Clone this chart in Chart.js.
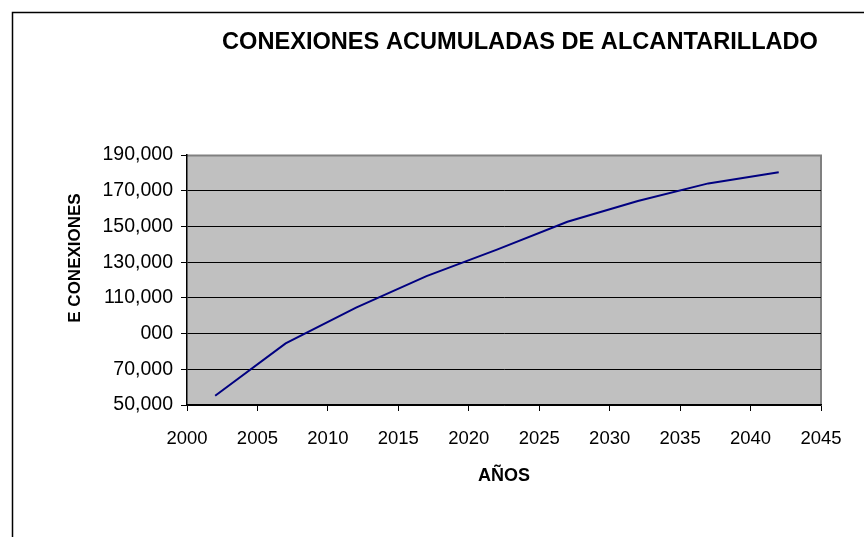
<!DOCTYPE html>
<html>
<head>
<meta charset="utf-8">
<script src="https://cdn.jsdelivr.net/npm/chart.js@4"></script>
<style>
  html, body { margin: 0; padding: 0; background: #fff; }
  #wrap { width: 864px; height: 537px; position: relative; }
</style>
</head>
<body>
<div id="wrap"><canvas id="chart" width="864" height="537"></canvas></div>
<script>
const years = [2002, 2007, 2012, 2017, 2022, 2027, 2032, 2037, 2042];
const conexiones = [55200, 84500, 104500, 122200, 137000, 152600, 164200, 174100, 180300];
const yTickValues = [50000, 70000, 90000, 110000, 130000, 150000, 170000, 190000];
const yTickLabels = ['50,000', '70,000', '000', '110,000', '130,000', '150,000', '170,000', '190,000'];
const xTickLabels = ['2000', '2005', '2010', '2015', '2020', '2025', '2030', '2035', '2040', '2045'];

const FONT = "'Liberation Sans', Arial, sans-serif";

// fondo gris del area de trazado + marco exterior + titulo
const chartDecor = {
  id: 'chartDecor',
  beforeDraw(chart) {
    const { ctx, chartArea: a } = chart;
    ctx.save();
    ctx.fillStyle = '#fff';
    ctx.fillRect(0, 0, chart.width, chart.height);
    ctx.fillStyle = '#c0c0c0';
    ctx.fillRect(a.left, a.top, a.right - a.left, a.bottom - a.top);
    ctx.strokeStyle = '#808080';
    ctx.lineWidth = 2;
    ctx.beginPath();
    ctx.moveTo(a.left, a.top + 0.5);
    ctx.lineTo(a.right, a.top + 0.5);
    ctx.lineTo(a.right, a.bottom);
    ctx.stroke();
    // marco del grafico
    ctx.strokeStyle = '#000';
    ctx.lineWidth = 1.5;
    ctx.beginPath();
    ctx.moveTo(12.5, chart.height);
    ctx.lineTo(12.5, 12.5);
    ctx.lineTo(chart.width, 12.5);
    ctx.stroke();
    ctx.restore();
  },
  afterDraw(chart) {
    const { ctx } = chart;
    ctx.save();
    ctx.fillStyle = '#000';
    ctx.font = 'bold 23.6px ' + FONT;
    ctx.textAlign = 'center';
    ctx.textBaseline = 'middle';
    ctx.fillText('CONEXIONES ACUMULADAS DE ALCANTARILLADO', 520, 42);
    ctx.translate(75, 258);
    ctx.rotate(-Math.PI / 2);
    ctx.font = 'bold 17px ' + FONT;
    ctx.fillText('E CONEXIONES', 0, 0);
    ctx.restore();
  }
};

new Chart(document.getElementById('chart'), {
  type: 'line',
  data: {
    datasets: [{
      label: 'Conexiones',
      data: years.map((y, i) => ({ x: y, y: conexiones[i] })),
      borderColor: '#000080',
      borderWidth: 2,
      pointRadius: 0,
      tension: 0,
      fill: false
    }]
  },
  options: {
    responsive: false,
    animation: false,
    devicePixelRatio: 1,
    layout: { padding: { left: 0, top: 155, right: 43, bottom: 0 } },
    plugins: {
      legend: { display: false },
      tooltip: { enabled: false }
    },
    scales: {
      x: {
        type: 'linear',
        min: 2000,
        max: 2045,
        afterFit: (s) => { s.height = 132; },
        afterBuildTicks: (s) => { s.ticks = xTickLabels.map(t => ({ value: Number(t) })); },
        ticks: {
          color: '#000',
          font: { family: FONT, size: 18.5 },
          padding: 17,
          maxRotation: 0,
          autoSkip: false,
          callback: (v, i) => xTickLabels[i]
        },
        grid: { drawOnChartArea: false, color: '#000', tickLength: 6, tickColor: '#000' },
        border: { color: '#000', width: 1.5 },
        title: {
          display: true,
          text: 'AÑOS',
          color: '#000',
          font: { family: FONT, size: 18, weight: 'bold' },
          padding: { bottom: 50 }
        }
      },
      y: {
        min: 50000,
        max: 190000,
        afterFit: (s) => { s.width = 187; },
        afterBuildTicks: (s) => { s.ticks = yTickValues.map(v => ({ value: v })); },
        ticks: {
          color: '#000',
          font: { family: FONT, size: 19.5 },
          padding: 8,
          autoSkip: false,
          callback: (v, i) => yTickLabels[i]
        },
        grid: {
          color: (c) => (c.tick && c.tick.value === 190000 ? 'rgba(0,0,0,0)' : '#000'),
          tickColor: '#000',
          tickLength: 6,
          lineWidth: 1
        },
        border: { color: '#000', width: 1.5 }
      }
    }
  },
  plugins: [chartDecor]
});
</script>
</body>
</html>
